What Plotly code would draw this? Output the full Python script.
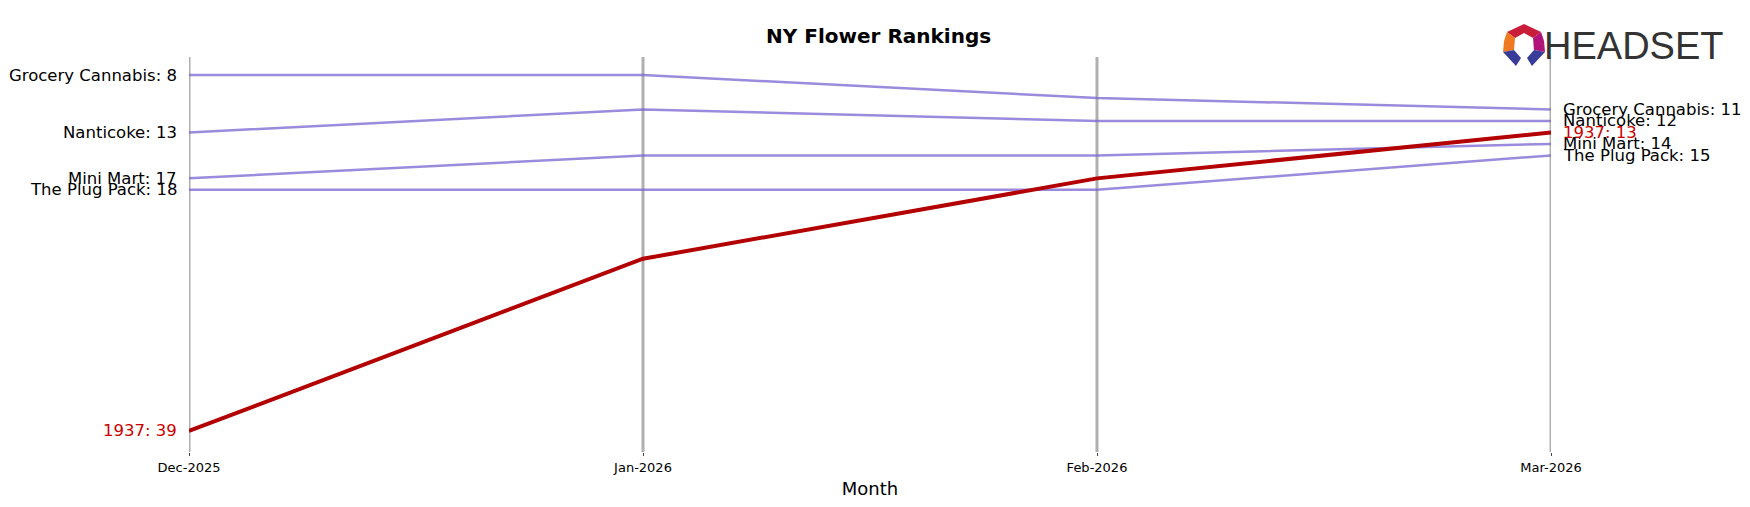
import plotly.graph_objects as go

months = ["Dec-2025", "Jan-2026", "Feb-2026", "Mar-2026"]
brands = ["Grocery Cannabis", "Nanticoke", "Mini Mart", "The Plug Pack", "1937"]
ranks = {
    "Grocery Cannabis": [8, 8, 10, 11],
    "Nanticoke": [13, 11, 12, 12],
    "Mini Mart": [17, 15, 15, 14],
    "The Plug Pack": [18, 18, 18, 15],
    "1937": [39, 24, 17, 13],
}
highlight = "1937"

W, H = 1750, 507
L, R, T, B = 181, 207, 49, 63
x = list(range(len(months)))
fig = go.Figure()

# month guide lines
for i in x:
    fig.add_shape(type="line", x0=i, x1=i, y0=0, y1=1, yref="paper",
                  line=dict(color="#b0b0b0", width=3), layer="below")

for b in brands:
    hi = b == highlight
    fig.add_trace(go.Scatter(
        x=x, y=ranks[b], mode="lines", name=b,
        line=dict(color="#b30000" if hi else "rgba(120,100,210,0.75)", width=4 if hi else 2.5),
    ))
    col = "#cc0000" if hi else "black"
    fig.add_annotation(x=0, y=ranks[b][0], text=f"{b}: {ranks[b][0]}", xanchor="right",
                       xshift=-10, showarrow=False, font=dict(size=16.5, color=col))
    fig.add_annotation(x=3, y=ranks[b][-1], text=f"{b}: {ranks[b][-1]}", xanchor="left",
                       xshift=10, showarrow=False, font=dict(size=16.5, color=col))

# logo: pixel positions -> paper (plot area) coords
def to_paper(xp, yp):
    return (xp - L) / (W - L - R), (H - B - yp) / (H - T - B)

def poly(pts, color):
    path = "M " + " L ".join("%.4f,%.4f" % to_paper(a, b) for a, b in pts) + " Z"
    fig.add_shape(type="path", path=path, xref="paper", yref="paper",
                  fillcolor=color, line=dict(width=0))

poly([(1516, 16), (1533, 24), (1525, 30), (1516, 25), (1507, 30), (1499, 24)], "#c81e3a")
poly([(1499, 24), (1507, 30), (1506, 42), (1495, 44), (1496, 33)], "#f07a22")
poly([(1533, 24), (1525, 30), (1526, 42), (1537, 44), (1536, 33)], "#b0147a")
poly([(1495, 44), (1506, 42), (1513, 50), (1508, 58)], "#3a3c9a")
poly([(1526, 42), (1537, 44), (1524, 58), (1519, 50)], "#3a3c9a")

lx, ly = to_paper(1717, 15)
fig.add_annotation(xref="paper", yref="paper", x=lx, y=ly, text="HEADSET",
                   xanchor="right", yanchor="top", showarrow=False,
                   font=dict(family="Liberation Sans", size=38, color="#333333"))

fig.update_layout(
    width=W, height=H,
    title=dict(text="<b>NY Flower Rankings</b>", x=0.4975, y=1 - 28 / H, xanchor="center",
               yanchor="middle", font=dict(family="DejaVu Sans", size=20, color="black")),
    font=dict(family="DejaVu Sans", color="black"),
    plot_bgcolor="white", paper_bgcolor="white",
    showlegend=False,
    margin=dict(l=L, r=R, t=T, b=B),
    xaxis=dict(range=[0, 3], tickvals=x, ticktext=months, showgrid=False, zeroline=False,
               ticks="outside", ticklen=3, tickfont=dict(size=13),
               title=dict(text="Month", font=dict(size=18), standoff=8)),
    yaxis=dict(range=[40.83, 6.43], visible=False),
)
fig.write_html("out.html")
